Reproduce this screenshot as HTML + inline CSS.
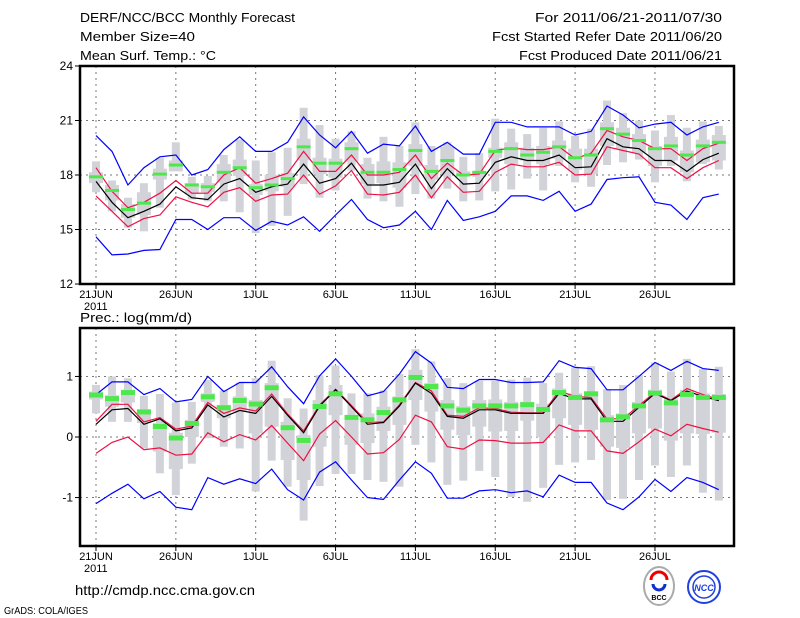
<!DOCTYPE html>
<html><head><meta charset="utf-8"><style>
html,body{margin:0;padding:0;background:#fff;}
svg{display:block;font-family:"Liberation Sans",sans-serif;}
</style></head><body>
<svg id="c" width="800" height="618" viewBox="0 0 800 618">
<g font-size="13" fill="#000">
<text x="80" y="22" textLength="215" lengthAdjust="spacingAndGlyphs">DERF/NCC/BCC Monthly Forecast</text>
<text x="80" y="41" textLength="115" lengthAdjust="spacingAndGlyphs">Member Size=40</text>
<text x="80" y="60" textLength="136" lengthAdjust="spacingAndGlyphs">Mean Surf. Temp.: °C</text>
<text x="535" y="22" textLength="187" lengthAdjust="spacingAndGlyphs">For 2011/06/21-2011/07/30</text>
<text x="492" y="41" textLength="230" lengthAdjust="spacingAndGlyphs">Fcst Started Refer Date 2011/06/20</text>
<text x="519" y="60" textLength="203" lengthAdjust="spacingAndGlyphs">Fcst Produced Date 2011/06/21</text>
<text x="80" y="322" textLength="112" lengthAdjust="spacingAndGlyphs">Prec.: log(mm/d)</text>
<text x="75" y="595" font-size="14" textLength="180" lengthAdjust="spacingAndGlyphs">http://cmdp.ncc.cma.gov.cn</text>
<text x="4" y="614" font-size="10" textLength="84" lengthAdjust="spacingAndGlyphs">GrADS: COLA/IGES</text>
</g>
<g>
<ellipse cx="659" cy="586" rx="15" ry="19" fill="#fff" stroke="#aaa" stroke-width="2"/>
<path d="M651 580 a8 8 0 1 1 16 0" fill="none" stroke="#e00" stroke-width="3"/>
<path d="M653 584 a6 6 0 1 0 12 0" fill="none" stroke="#1030d0" stroke-width="3"/>
<text x="659" y="600" font-size="7" text-anchor="middle" font-weight="bold">BCC</text>
</g>
<g>
<circle cx="704" cy="587" r="16" fill="#fff" stroke="#2040e0" stroke-width="2"/>
<circle cx="704" cy="587" r="11" fill="none" stroke="#2040e0" stroke-width="1.5"/>
<text x="704" y="591" font-size="9" text-anchor="middle" fill="#2040e0" font-weight="bold" font-style="italic">NCC</text>
</g>
</svg>
<script>
const days = ['21JUN','26JUN','1JUL','6JUL','11JUL','16JUL','21JUL','26JUL'];
const tBlueHi=[20.17,19.3,17.45,18.4,19.0,19.1,18.0,18.3,19.4,20.1,19.3,19.3,19.8,21.2,20.2,19.5,20.4,19.2,19.7,19.6,20.7,19.3,19.8,19.15,19.15,20.9,20.9,20.65,20.65,20.65,20.2,20.4,21.8,21.3,20.6,20.8,20.9,20.2,20.65,20.9];
const tBlueLo=[14.6,13.6,13.65,13.85,13.9,15.55,15.55,15.0,15.65,15.65,14.95,15.45,15.25,15.7,14.9,15.8,16.65,15.55,15.1,15.25,16.0,15.0,16.6,15.5,15.7,16.0,16.85,16.85,16.6,17.1,16.0,16.4,17.75,17.85,17.9,16.5,16.35,15.55,16.75,16.95];
const tMean=[17.65,16.5,15.65,16.0,16.4,17.35,16.75,16.65,17.5,17.8,17.05,17.35,17.5,18.6,17.55,17.8,18.65,17.45,17.45,17.6,18.6,17.25,18.35,17.5,17.55,18.7,19.0,18.8,18.8,19.1,18.4,18.45,20.0,19.55,19.45,18.8,18.8,18.2,18.85,19.2];
const tRedHi=[18.4,17.1,16.2,16.5,17.0,17.7,17.0,17.0,18.0,18.4,17.55,17.8,18.1,19.3,18.2,18.2,19.1,18.0,18.0,18.15,19.1,17.8,18.65,18.0,18.05,19.35,19.5,19.4,19.4,19.55,18.9,19.2,20.45,20.1,19.9,19.45,19.45,18.8,19.45,19.75];
const tRedLo=[16.85,16.0,15.15,15.6,15.8,16.8,16.5,16.25,17.05,17.3,16.55,16.9,16.95,18.0,16.95,17.4,18.25,16.95,16.9,17.05,18.0,16.75,17.9,17.05,17.1,18.15,18.6,18.45,18.45,18.7,18.0,18.05,19.55,19.35,19.15,18.4,18.4,17.8,18.4,18.8];
const tGreen=[17.9,17.15,16.1,16.45,18.05,18.55,17.45,17.35,18.15,18.4,17.3,17.45,17.8,19.55,18.65,18.65,19.45,18.15,18.15,18.3,19.35,18.2,18.8,18.0,18.15,19.3,19.45,19.1,19.25,19.55,18.95,19.1,20.55,20.25,19.9,19.45,19.6,19.1,19.6,19.8];
const tMax=[18.75,17.7,16.75,17.55,18.95,19.8,17.9,17.95,19.1,19.95,18.8,19.25,19.5,21.7,20.75,20.0,20.4,18.95,20.1,19.6,20.9,19.6,19.8,19.0,19.2,21.1,20.55,20.25,20.6,20.95,20.15,20.55,22.1,21.4,21.0,20.45,21.3,20.6,20.95,20.7];
const tMin=[17.05,16.0,15.1,14.9,16.2,18.25,16.65,16.55,16.55,15.95,14.8,15.2,15.75,17.5,16.75,17.15,18.25,16.7,16.55,16.25,16.95,16.7,17.25,16.55,16.6,17.1,17.2,17.8,17.15,18.5,17.6,17.35,18.55,18.7,18.85,17.6,18.5,17.65,18.6,18.3];
const tQHi=[18.15,17.45,16.4,17.05,18.35,18.8,17.55,17.55,18.6,18.85,17.5,18.0,18.1,20.0,18.95,18.9,19.8,18.6,18.75,18.7,19.7,18.55,19.55,18.2,18.2,19.5,19.8,19.5,19.6,19.9,19.45,19.45,20.9,20.6,20.25,19.6,20.1,19.35,19.95,20.2];
const tQLo=[17.55,16.6,15.65,15.8,17.75,18.2,16.95,17.05,17.6,17.95,16.9,17.1,17.35,18.8,18.05,17.85,18.75,17.5,17.55,17.3,18.5,17.75,18.05,17.95,17.9,18.95,18.6,18.8,18.6,18.9,18.3,18.05,19.6,19.45,19.25,18.5,18.8,18.15,18.7,18.8];
const tTicks=[12,15,18,21,24];
const pBlueHi=[0.7,0.91,0.91,0.7,0.8,0.58,0.62,1.0,0.75,0.9,0.9,1.16,0.83,0.55,1.01,1.29,1.0,0.68,0.75,1.04,1.41,1.22,0.82,0.8,0.95,0.95,0.9,0.9,0.91,1.26,1.15,1.13,0.78,0.78,1.0,1.23,1.1,1.25,1.13,1.1];
const pBlueLo=[-1.1,-0.93,-0.78,-1.02,-0.9,-1.16,-1.2,-0.67,-0.78,-0.69,-0.77,-0.53,-0.87,-1.04,-0.58,-0.41,-0.71,-1.0,-1.03,-0.71,-0.41,-0.6,-1.01,-1.01,-0.89,-0.87,-0.92,-0.89,-0.99,-0.63,-0.75,-0.75,-1.09,-1.2,-0.99,-0.7,-0.9,-0.67,-0.75,-0.87];
const pMean=[0.21,0.45,0.47,0.21,0.3,0.1,0.15,0.53,0.33,0.44,0.39,0.67,0.36,0.07,0.51,0.78,0.5,0.21,0.24,0.51,0.89,0.72,0.34,0.31,0.45,0.45,0.39,0.39,0.39,0.72,0.63,0.63,0.26,0.26,0.49,0.72,0.6,0.76,0.67,0.6];
const pRedHi=[0.26,0.54,0.54,0.25,0.32,0.13,0.18,0.57,0.39,0.48,0.43,0.71,0.38,0.1,0.53,0.79,0.52,0.24,0.25,0.53,0.9,0.76,0.36,0.34,0.48,0.47,0.41,0.4,0.4,0.76,0.67,0.65,0.3,0.3,0.52,0.74,0.61,0.8,0.7,0.62];
const pRedLo=[-0.27,-0.09,0.0,-0.21,-0.18,-0.3,-0.28,0.07,-0.08,0.04,-0.05,0.19,-0.1,-0.39,0.05,0.27,0.0,-0.28,-0.26,-0.04,0.36,0.25,-0.16,-0.2,-0.05,-0.06,-0.1,-0.1,-0.09,0.2,0.1,0.1,-0.23,-0.27,-0.08,0.13,0.02,0.21,0.14,0.08];
const pGreen=[0.71,0.65,0.75,0.43,0.19,0.0,0.24,0.68,0.5,0.62,0.56,0.83,0.17,-0.04,0.52,0.73,0.34,0.3,0.42,0.63,1.0,0.85,0.53,0.46,0.53,0.53,0.53,0.55,0.47,0.75,0.67,0.73,0.3,0.35,0.53,0.74,0.58,0.72,0.67,0.67];
const pMax=[0.86,1.0,0.97,0.68,0.71,0.57,0.58,0.94,0.77,0.9,0.97,1.26,0.64,0.47,1.02,1.18,0.72,0.72,0.77,1.04,1.45,1.25,0.97,0.89,0.93,0.93,0.95,0.98,0.89,1.06,1.15,1.17,0.79,0.86,1.02,1.23,1.08,1.29,1.12,1.16];
const pMin=[0.39,0.25,0.25,-0.19,-0.6,-0.96,-0.44,-0.02,-0.16,-0.19,-0.9,-0.39,-0.82,-1.38,-0.81,-0.61,-0.61,-0.71,-0.74,-0.82,-0.13,-0.42,-0.79,-0.72,-0.56,-0.66,-0.99,-1.07,-0.84,-0.46,-0.42,-0.38,-1.04,-1.02,-0.71,-0.47,-0.66,-0.47,-0.92,-1.05];
const pQHi=[0.75,0.69,0.78,0.46,0.23,0.07,0.28,0.72,0.53,0.67,0.61,0.89,0.25,0.03,0.61,0.86,0.36,0.39,0.5,0.67,1.11,0.89,0.61,0.51,0.61,0.62,0.58,0.58,0.55,0.8,0.72,0.75,0.36,0.39,0.58,0.78,0.64,0.78,0.72,0.71];
const pQLo=[0.62,0.5,0.57,0.23,-0.24,-0.53,0.0,0.58,0.31,0.42,0.06,0.17,-0.38,-0.71,-0.16,0.36,-0.13,-0.1,0.1,0.2,0.61,0.42,0.12,0.03,0.17,0.09,0.1,0.27,0.0,0.31,0.2,0.12,-0.16,-0.18,0.06,0.14,-0.06,0.06,0.05,0.07];
const pTicks=[-1,0,1];

const NS='http://www.w3.org/2000/svg';
const svg=document.getElementById('c');
const X0=80,X1=734;
function xd(i){return 96+i*15.97;}
function mk(tag,attrs,parent){const e=document.createElementNS(NS,tag);for(const k in attrs)e.setAttribute(k,attrs[k]);(parent||svg).appendChild(e);return e;}

function panel(name,top,bot,vmin,vmax,ticks,d){
  const g=mk('g',{});
  
  
  const y=v=>bot-(v-vmin)/(vmax-vmin)*(bot-top);
  ticks.forEach(t=>{
    if(t>vmin&&t<vmax){const l=mk('line',{x1:X0,x2:X1,y1:y(t),y2:y(t),stroke:'#777','stroke-dasharray':'2,4','stroke-width':1},g);
    
    }
  });
  days.forEach((lab,k)=>{const x=xd(k*5);
    const l=mk('line',{x1:x,x2:x,y1:top,y2:bot,stroke:'#777','stroke-dasharray':'2,4','stroke-width':1},g);
    
    });
  d.max.forEach((v,i)=>{const x=xd(i);
    const r=mk('rect',{x:x-4,y:y(v),width:8,height:y(d.min[i])-y(v),fill:'#d2d3d8'},g);
    
    
    const b=mk('rect',{x:x-7,y:y(d.qhi[i]),width:14,height:Math.max(1,y(d.qlo[i])-y(d.qhi[i])),fill:'#d2d3d8'},g);
    
    });
  const line=(arr,col,nm)=>{const p=mk('polyline',{points:arr.map((v,i)=>xd(i).toFixed(1)+','+y(v).toFixed(1)).join(' '),fill:'none',stroke:col,'stroke-width':1.2},g);
    
    };
  line(d.blo,'#0000ff','min-line');line(d.bhi,'#0000ff','max-line');
  line(d.rlo,'#ee1144','lower-line');line(d.rhi,'#ee1144','upper-line');
  line(d.mean,'#000','mean-line');
  d.green.forEach((v,i)=>{const r=mk('rect',{x:xd(i)-7,y:y(v)-1.5,width:14,height:d.gh,fill:'#4ce84c'},g);
    
    });
  const f=mk('rect',{x:X0,y:top,width:X1-X0,height:bot-top,fill:'none',stroke:'#000','stroke-width':2.5},g);
  
  
  ticks.forEach(t=>{const tl=mk('line',{x1:X0-5,x2:X0,y1:y(t),y2:y(t),stroke:'#000'},g);
    
    
    const tx=mk('text',{x:X0-7,y:y(t)+4,'font-size':12,'text-anchor':'end'},g);tx.textContent=t;
    
    });
  days.forEach((lab,k)=>{const x=xd(k*5);
    const tl=mk('line',{x1:x,x2:x,y1:bot,y2:bot+5,stroke:'#000'},g);
    
    
    const tx=mk('text',{x:x,y:bot+14,'font-size':11,'text-anchor':'middle'},g);tx.textContent=lab;
    
    });
  const yr=mk('text',{x:84,y:bot+26,'font-size':11},g);yr.textContent='2011';
  
  
}
panel('temperature-panel',66,284,12,24,tTicks,{bhi:tBlueHi,blo:tBlueLo,mean:tMean,rhi:tRedHi,rlo:tRedLo,green:tGreen,max:tMax,min:tMin,qhi:tQHi,qlo:tQLo,gh:3});
panel('precipitation-panel',328,546,-1.8,1.8,pTicks,{bhi:pBlueHi,blo:pBlueLo,mean:pMean,rhi:pRedHi,rlo:pRedLo,green:pGreen,max:pMax,min:pMin,qhi:pQHi,qlo:pQLo,gh:5});
</script>
</body></html>
